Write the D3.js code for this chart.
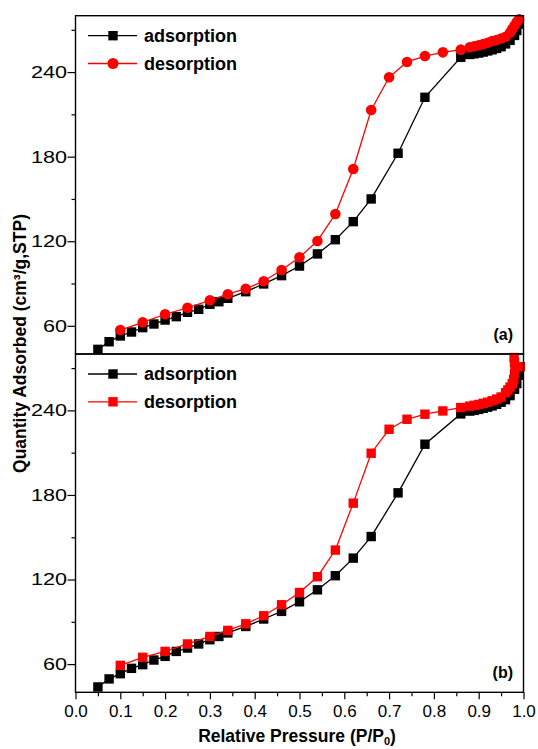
<!DOCTYPE html>
<html>
<head>
<meta charset="utf-8">
<script src="https://cdn.jsdelivr.net/npm/d3@7"></script>
<style>
  html, body { margin: 0; padding: 0; background: #fff; }
  svg { display: block; }
</style>
</head>
<body>
<svg id="chart"></svg>
<script>
/* ---------- data ---------- */
// panel (a): adsorption / desorption (circles)
const adsP_a = [0.05, 0.075, 0.1, 0.125, 0.15, 0.175, 0.2, 0.225, 0.25, 0.275, 0.3, 0.32, 0.34, 0.38, 0.42, 0.46, 0.50, 0.54, 0.58, 0.62, 0.66, 0.72, 0.78, 0.86, 0.88, 0.89, 0.90, 0.91, 0.92, 0.93, 0.94, 0.95, 0.96, 0.97, 0.98, 0.985, 0.99];
const adsQ_a = [43.3, 48.7, 52.8, 55.6, 58.7, 61.3, 64.1, 66.5, 69.6, 71.7, 75.3, 77.1, 79.5, 84.2, 89.7, 95.6, 102.4, 111, 121.1, 133.9, 150, 182.4, 222.1, 250.5, 252.5, 253, 253.5, 254.2, 255, 255.8, 256.8, 258, 260, 262.5, 266, 269.5, 274];
const desP_a = [0.99, 0.985, 0.98, 0.975, 0.97, 0.96, 0.95, 0.94, 0.93, 0.92, 0.91, 0.90, 0.89, 0.88, 0.86, 0.82, 0.78, 0.74, 0.70, 0.66, 0.62, 0.58, 0.54, 0.50, 0.46, 0.42, 0.38, 0.34, 0.30, 0.25, 0.20, 0.15, 0.10];
const desQ_a = [277.5, 275.5, 273, 270.5, 268, 265, 263.8, 262.8, 262, 260.8, 259.8, 259, 258.3, 257.6, 255.9, 254, 251.4, 247.2, 236.3, 213.1, 171.2, 139.3, 120.2, 108.6, 99.6, 91.6, 86.3, 82.4, 78.1, 72.8, 68.2, 62.5, 57.0];

// panel (b): adsorption / desorption (squares)
const adsP_b = [0.05, 0.075, 0.1, 0.125, 0.15, 0.175, 0.2, 0.225, 0.25, 0.275, 0.3, 0.32, 0.34, 0.38, 0.42, 0.46, 0.50, 0.54, 0.58, 0.62, 0.66, 0.72, 0.78, 0.86, 0.88, 0.89, 0.90, 0.91, 0.92, 0.93, 0.94, 0.95, 0.96, 0.97, 0.98, 0.985, 0.99];
const adsQ_b = [43.8, 49.5, 53.2, 57, 59.6, 62.9, 65.5, 69, 71.4, 74.3, 77.3, 79.6, 82.1, 86.7, 92, 97.4, 104.2, 112.7, 122.7, 135.2, 150.5, 181.5, 216, 237.5, 239.5, 240, 240.7, 241.5, 242.3, 243.2, 244.3, 245.8, 247.6, 250.5, 255, 259, 265];
const desP_b = [0.993, 0.979, 0.98, 0.981, 0.98, 0.978, 0.975, 0.97, 0.965, 0.96, 0.95, 0.94, 0.93, 0.92, 0.91, 0.90, 0.89, 0.88, 0.86, 0.82, 0.78, 0.74, 0.70, 0.66, 0.62, 0.58, 0.54, 0.50, 0.46, 0.42, 0.38, 0.34, 0.30, 0.25, 0.20, 0.15, 0.10];
const desQ_b = [271, 277.5, 274, 270, 266, 262, 259, 256.5, 254.5, 252.5, 249.5, 248, 246.8, 245.8, 245, 244.2, 243.6, 243, 242, 239.6, 237.3, 233.7, 226.6, 209.6, 174.2, 140.9, 122, 110.8, 102.1, 94.3, 88.6, 83.9, 79.6, 74.3, 69, 64.8, 59.1];

const xTicks = [0, 0.1, 0.2, 0.3, 0.4, 0.5, 0.6, 0.7, 0.8, 0.9, 1.0];
const yTicks = [60, 120, 180, 240];
const seriesNames = ['adsorption', 'desorption'];

/* ---------- layout ---------- */
const W = 538, H = 749;
const left = 75.5, right = 523.5;
const panels = [
  { top: 15.7, bottom: 354, ads: [adsP_a, adsQ_a], des: [desP_a, desQ_a], desShape: 'circle', tag: '(a)' },
  { top: 354, bottom: 692.3, ads: [adsP_b, adsQ_b], des: [desP_b, desQ_b], desShape: 'square', tag: '(b)' },
];
const FONT = 'Arial, "Liberation Sans", Helvetica, sans-serif';

const svg = d3.select('#chart').attr('width', W).attr('height', H);

const x = d3.scaleLinear().domain([0, 1]).range([left, right]);

const zip = (p, q) => p.map((v, i) => [v, q[i]]);

function drawMarkers(g, pts, shape, fill, y) {
  if (shape === 'circle') {
    g.selectAll(null).data(pts).join('circle')
      .attr('cx', d => x(d[0])).attr('cy', d => y(d[1]))
      .attr('r', 5.3).attr('fill', fill);
  } else {
    const s = 9.4;
    g.selectAll(null).data(pts).join('rect')
      .attr('x', d => x(d[0]) - s / 2).attr('y', d => y(d[1]) - s / 2)
      .attr('width', s).attr('height', s).attr('fill', fill);
  }
}

panels.forEach((p) => {
  const y = d3.scaleLinear().domain([40, 280]).range([p.bottom, p.top]);
  const g = svg.append('g');

  // y axis: majors with labels, minors in between
  const yMajor = d3.axisLeft(y).tickValues(yTicks).tickSize(8).tickPadding(1);
  const ya = g.append('g').attr('transform', `translate(${left},0)`).call(yMajor);
  ya.select('.domain').remove();
  ya.selectAll('line').attr('stroke-width', 1.2);
  ya.selectAll('text')
    .attr('font-family', FONT).attr('font-size', 17).attr('fill', '#000')
    .attr('x', -8.5 / 1.27).attr('transform', 'scale(1.27,1)');
  const yMinor = d3.axisLeft(y).tickValues(yTicks.map(v => v + 30)).tickSize(4).tickFormat('');
  const ym = g.append('g').attr('transform', `translate(${left},0)`).call(yMinor);
  ym.select('.domain').remove();
  ym.selectAll('line').attr('stroke-width', 1.2);

  // series
  const line = d3.line().x(d => x(d[0])).y(d => y(d[1]));
  const ads = zip(p.ads[0], p.ads[1]);
  const des = zip(p.des[0], p.des[1]);

  g.append('path').datum(ads).attr('d', line)
    .attr('fill', 'none').attr('stroke', '#000').attr('stroke-width', 1.3);
  drawMarkers(g.append('g'), ads, 'square', '#000', y);

  g.append('path').datum(des).attr('d', line)
    .attr('fill', 'none').attr('stroke', '#ff0000').attr('stroke-width', 1.3);
  drawMarkers(g.append('g'), des, p.desShape, '#ff0000', y);

  // frame
  g.append('rect')
    .attr('x', left).attr('y', p.top)
    .attr('width', right - left).attr('height', p.bottom - p.top)
    .attr('fill', 'none').attr('stroke', '#000').attr('stroke-width', 1.4);

  // legend
  const leg = g.append('g');
  [['#000', 'square'], ['#ff0000', p.desShape]].forEach(([col, shape], i) => {
    const ly = p.top + 20 + i * 27.8;
    leg.append('line').attr('x1', 88).attr('x2', 137).attr('y1', ly).attr('y2', ly)
      .attr('stroke', col).attr('stroke-width', 1.3);
    if (shape === 'circle') {
      leg.append('circle').attr('cx', 113).attr('cy', ly).attr('r', 5.5).attr('fill', col);
    } else {
      leg.append('rect').attr('x', 108.3).attr('y', ly - 4.7).attr('width', 9.4).attr('height', 9.4).attr('fill', col);
    }
    leg.append('text').attr('x', 144).attr('y', ly).attr('dy', '0.35em')
      .attr('font-family', FONT).attr('font-size', 18).attr('font-weight', 'bold')
      .text(seriesNames[i]);
  });

  // panel tag
  g.append('text').attr('x', 513).attr('y', p.bottom - 14)
    .attr('text-anchor', 'end')
    .attr('font-family', FONT).attr('font-size', 16).attr('font-weight', 'bold')
    .text(p.tag);
});

/* ---------- shared x axis ---------- */
const bottom = panels[1].bottom;
const xMajor = d3.axisBottom(x).tickValues(xTicks).tickSize(7).tickPadding(5.7).tickFormat(d3.format('.1f'));
const xa = svg.append('g').attr('transform', `translate(0,${bottom})`).call(xMajor);
xa.select('.domain').remove();
xa.selectAll('line').attr('stroke-width', 1.2);
xa.selectAll('text').attr('font-family', FONT).attr('font-size', 17).attr('fill', '#000');
const xMinor = d3.axisBottom(x).tickValues(xTicks.slice(0, -1).map(v => v + 0.05)).tickSize(4).tickFormat('');
const xm = svg.append('g').attr('transform', `translate(0,${bottom})`).call(xMinor);
xm.select('.domain').remove();
xm.selectAll('line').attr('stroke-width', 1.2);

/* ---------- axis titles ---------- */
const xt = svg.append('text').attr('x', 297).attr('y', 742)
  .attr('text-anchor', 'middle')
  .attr('font-family', FONT).attr('font-size', 17.5).attr('font-weight', 'bold');
xt.append('tspan').text('Relative Pressure (P/P');
xt.append('tspan').attr('font-size', 11).attr('dy', 3).text('0');
xt.append('tspan').attr('dy', -3).text(')');

svg.append('text')
  .attr('transform', 'translate(26,343.5) rotate(-90)')
  .attr('text-anchor', 'middle')
  .attr('font-family', FONT).attr('font-size', 17.5).attr('font-weight', 'bold')
  .text('Quantity Adsorbed (cm³/g,STP)');
</script>
</body>
</html>
